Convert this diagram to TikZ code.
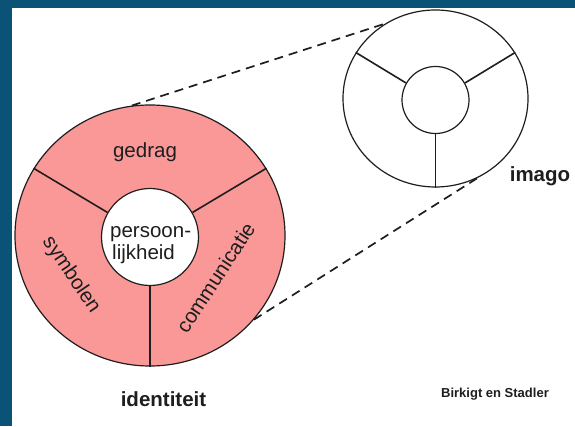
\documentclass[tikz,border=0pt]{standalone}
\usepackage{fontspec}
\setmainfont{Liberation Sans}
\usetikzlibrary{shapes.geometric}
\definecolor{frameblue}{RGB}{10,82,118}
\definecolor{idpink}{RGB}{250,152,152}
\definecolor{ink}{RGB}{30,30,30}
\begin{document}
\begin{tikzpicture}[x=1pt,y=1pt,
  outline/.style={draw=ink, line width=1.2pt},
  spoke/.style={draw=ink, line width=1.6pt},
  tangent/.style={draw=ink, line width=1.7pt, dash pattern=on 9pt off 6pt},
  lbl/.style={font=\fontsize{20.5}{22}\selectfont, text=ink, inner sep=0pt},
  blbl/.style={font=\fontsize{20.5}{22}\selectfont\bfseries, text=ink, inner sep=0pt},
  srclbl/.style={font=\fontsize{13}{15}\selectfont\bfseries, text=ink, inner sep=0pt},
]
\useasboundingbox (0,0) rectangle (575,426);
\fill[white] (0,0) rectangle (575,426);
\fill[frameblue] (0,0) rectangle (12,426);
\fill[frameblue] (0,418) rectangle (575,426);

% identiteit
\node[ellipse, outline, fill=idpink, minimum width=270pt, minimum height=261pt, inner sep=0pt] (big) at (150,190.5) {};
\node[circle, outline, fill=white, minimum size=97pt, inner sep=0pt] (core) at (150,189) {};
\foreach \a in {30,150,270} \draw[spoke] (core.\a) -- (big.\a);

% imago
\node[ellipse, outline, fill=white, minimum width=185pt, minimum height=177pt, inner sep=0pt] (img) at (435.5,327.5) {};
\node[circle, outline, minimum size=67pt, inner sep=0pt] (imgcore) at (435.5,326) {};
\foreach \a in {30,150,270} \draw[spoke] (imgcore.\a) -- (img.\a);

% dashed connectors
\draw[tangent] (big.98) -- (img.124);
\draw[tangent] (big.-39) -- (img.-62);

% labels
\node[lbl, anchor=base] (gedrag) at (145,268) {gedrag};
\node[lbl, anchor=base west] (pers1) at (110,189) {persoon-};
\node[lbl, anchor=base west] (pers2) at (112,167) {lijkheid};
\node[lbl, rotate=-56] (symb) at (71,151) {symbolen};
\node[lbl, rotate=57] (comm) at (215.5,148.5) {communicatie};
\node[blbl, anchor=base] (imago) at (540,244) {imago};
\node[blbl, anchor=base] (ident) at (163.5,19.3) {identiteit};
\node[srclbl, anchor=base] (src) at (495,29) {Birkigt en Stadler};
\end{tikzpicture}
\end{document}
